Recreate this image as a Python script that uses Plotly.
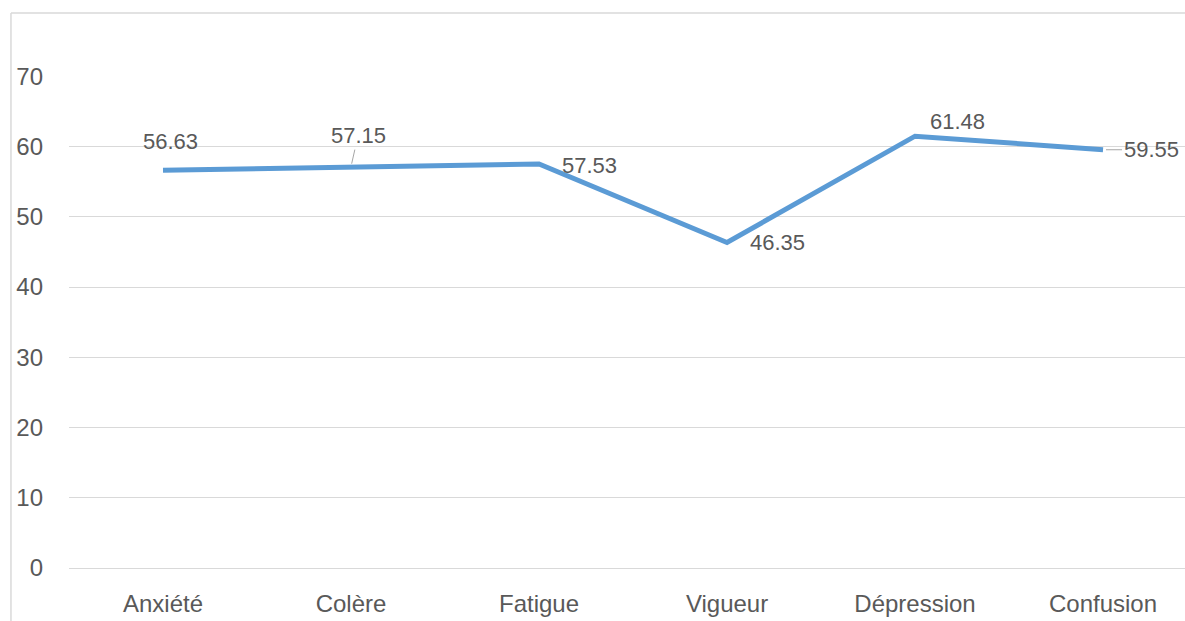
import plotly.graph_objects as go

categories = ["Anxiété", "Colère", "Fatigue", "Vigueur", "Dépression", "Confusion"]
values = [56.63, 57.15, 57.53, 46.35, 61.48, 59.55]
y_ticks = [0, 10, 20, 30, 40, 50, 60, 70]

# label offsets in pixels (styling only)
label_style = [
    dict(xshift=7, yshift=29, arrow=False),
    dict(ax=7, ay=-31, arrow=True),
    dict(xshift=50, yshift=-2, arrow=False),
    dict(xshift=50, yshift=0, arrow=False),
    dict(xshift=42, yshift=15, arrow=False),
    dict(ax=48, ay=0, arrow=True),
]

font_family = "Liberation Sans, Arial, sans-serif"
text_color = "#595959"

fig = go.Figure()
fig.add_trace(go.Scatter(
    x=list(range(len(categories))), y=values, mode="lines",
    line=dict(color="#5b9bd5", width=5),
    hoverinfo="skip", showlegend=False,
))

annotations = []
for i, (v, st) in enumerate(zip(values, label_style)):
    txt = f"{v:.2f}"
    if st["arrow"]:
        annotations.append(dict(
            x=i, y=v, xref="x", yref="y", text=txt, showarrow=True,
            ax=st["ax"], ay=st["ay"], arrowhead=0, arrowwidth=1,
            arrowcolor="#a6a6a6", standoff=3,
            font=dict(family=font_family, size=22, color=text_color),
        ))
    else:
        annotations.append(dict(
            x=i, y=v, xref="x", yref="y", text=txt, showarrow=False,
            xshift=st["xshift"], yshift=st["yshift"],
            font=dict(family=font_family, size=22, color=text_color),
        ))

fig.update_layout(
    width=1185, height=621,
    margin=dict(l=69, r=0, t=76, b=53),
    paper_bgcolor="white", plot_bgcolor="white",
    font=dict(family=font_family, size=24, color=text_color),
    annotations=annotations,
    hovermode=False,
    xaxis=dict(
        tickmode="array", tickvals=list(range(len(categories))), ticktext=categories,
        range=[-0.5, 5.436], showgrid=False, zeroline=False, showline=False,
        ticks="", ticklabelstandoff=19,
        tickfont=dict(family=font_family, size=24, color=text_color),
    ),
    yaxis=dict(
        range=[0, 70.05], tickvals=y_ticks, showgrid=True, gridcolor="#d9d9d9",
        gridwidth=1, zeroline=True, zerolinecolor="#d9d9d9", zerolinewidth=1,
        showline=False, ticks="", ticklabelstandoff=25,
        tickfont=dict(family=font_family, size=24, color=text_color),
    ),
    shapes=[
        dict(type="line", xref="paper", yref="paper",
             x0=-0.052, x1=1.1, y0=1.128, y1=1.128,
             line=dict(color="#d9d9d9", width=1.5), layer="below"),
        dict(type="line", xref="paper", yref="paper",
             x0=-0.052, x1=-0.052, y0=-0.3, y1=1.128,
             line=dict(color="#d9d9d9", width=1.5), layer="below"),
    ],
)

fig.write_html(
    "out.html",
    config={"displayModeBar": False},
    post_script=(
        "document.body.style.margin='0';"
        "document.body.style.overflow='hidden';"
        "document.documentElement.style.overflow='hidden';"
    ),
)
